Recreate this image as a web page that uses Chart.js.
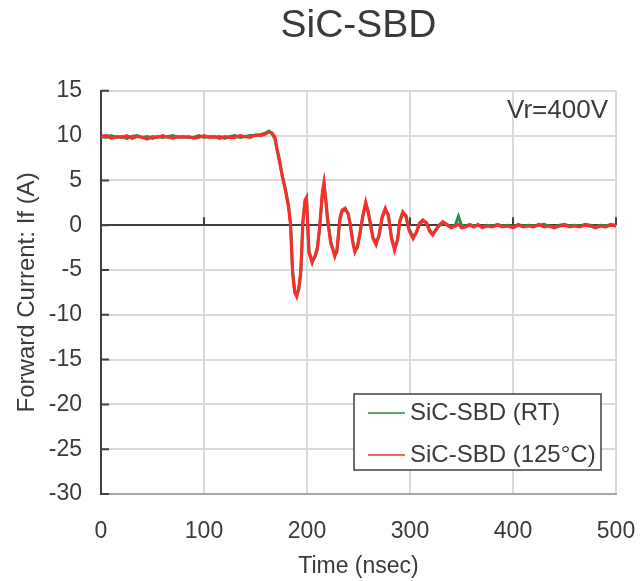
<!DOCTYPE html>
<html>
<head>
<meta charset="utf-8">
<script src="https://cdn.jsdelivr.net/npm/chart.js@4.4.1/dist/chart.umd.min.js"></script>
<style>
  html, body { margin: 0; padding: 0; background: #fff; }
  #wrap { width: 642px; height: 581px; }
</style>
</head>
<body>
<div id="wrap"><canvas id="recoveryChart" width="642" height="581"></canvas></div>
<script>
// time axis (nsec)
var timeNs = [
  0, 5, 10, 15, 20, 25, 30, 35, 40, 45, 50, 55, 60, 65, 70, 75,
  80, 85, 90, 95, 100, 105, 110, 115, 120, 125, 130, 135, 140, 145, 150, 155,
  160, 163, 166, 169, 171, 173, 176, 179, 182, 184, 186, 188, 190, 192, 194, 196,
  198, 199.5, 201, 202, 205, 208, 210, 212, 213, 215, 216.5, 218, 220, 223, 227, 229,
  232, 234, 237, 240, 242, 244.5, 246.5, 249, 251, 254, 257, 259, 261, 264, 267, 270,
  273, 276, 279, 282, 285, 288, 290, 293, 296, 299, 303, 306, 309, 312.5, 316, 319,
  322, 325, 328, 332, 336, 340, 344, 347, 350, 354, 358, 362, 366, 370,
  375, 380, 385, 390, 395, 400, 405, 410, 415, 420, 425, 430, 435, 440, 445, 450,
  455, 460, 465, 470, 475, 480, 485, 490, 495, 500
];

// forward current at room temperature (A)
var currentRT = [
  9.9, 9.8, 10.0, 9.8, 9.9, 9.7, 9.9, 10.0, 9.8, 9.9, 9.7, 9.9, 9.8, 9.9, 10.0, 9.8,
  9.9, 9.8, 9.8, 10.0, 9.8, 9.9, 9.8, 9.9, 9.7, 9.9, 10.0, 9.8, 9.9, 10.0, 10.0, 10.1,
  10.3, 10.5, 10.2, 9.6, 8.3, 7.2, 5.6, 4.1, 2.3, 0.3, -5.0, -7.2, -7.8, -7.2, -5.4, 0.2,
  2.6, 3.0, -0.6, -2.9, -4.0, -3.5, -2.7, -0.7, 0.7, 3.5, 4.6, 3.2, 0.8, -1.8, -3.3, -3.0,
  0.6, 1.5, 1.8, 1.3, 0.2, -1.8, -2.8, -2.5, -1.3, 0.8, 2.4, 1.8, 0.6, -1.3, -2.0, -1.2,
  0.8, 1.7, 1.2, -1.3, -2.6, -1.7, 0.3, 1.3, 1.1, -0.4, -1.3, -0.9, 0.0, 0.5, 0.3, -0.5,
  -1.0, -0.6, -0.1, 0.3, 0.1, -0.2, 0.0, 1.0, 0.0, -0.1, 0.1, -0.1, 0.0, -0.2,
  0.0, -0.1, 0.1, -0.1, 0.0, -0.2, 0.1, -0.1, 0.0, -0.1, 0.0, 0.1, -0.1, -0.2, 0.0, 0.1,
  -0.1, 0.0, -0.1, 0.1, 0.0, -0.2, 0.0, -0.1, 0.1, 0.0
];

// forward current at 125C (A)
var current125 = [
  9.8, 10.0, 9.7, 9.9, 9.8, 10.0, 9.7, 9.9, 9.8, 9.6, 9.9, 9.8, 10.0, 9.8, 9.7, 9.9,
  9.8, 9.9, 9.7, 9.8, 10.0, 9.8, 9.9, 9.7, 9.9, 9.8, 9.8, 10.0, 9.9, 9.8, 10.1, 10.0,
  10.2, 10.4, 10.3, 9.8, 8.5, 7.5, 5.4, 3.9, 2.0, 0.0, -5.4, -7.5, -8.0, -7.0, -5.0, 0.5,
  2.8, 3.1, -1.0, -3.1, -4.2, -3.3, -2.5, -0.5, 0.9, 3.8, 4.8, 3.0, 0.5, -2.0, -3.5, -2.8,
  0.9, 1.7, 1.9, 1.2, 0.0, -2.0, -3.0, -2.3, -1.1, 1.0, 2.6, 1.6, 0.4, -1.5, -2.2, -1.0,
  1.0, 1.9, 1.0, -1.5, -2.8, -1.5, 0.5, 1.5, 1.0, -0.6, -1.5, -0.8, 0.2, 0.6, 0.2, -0.7,
  -1.1, -0.5, 0.0, 0.4, 0.0, -0.3, -0.1, 0.1, -0.3, -0.2, 0.0, -0.2, 0.1, -0.3,
  -0.1, -0.2, 0.0, -0.2, -0.1, -0.3, 0.0, -0.2, -0.1, -0.2, 0.1, -0.2, -0.1, -0.3, -0.1, 0.0,
  -0.2, -0.1, -0.2, 0.0, -0.1, -0.3, -0.1, -0.2, 0.0, -0.1
];

var seriesNames = ['SiC-SBD (RT)', 'SiC-SBD (125\u00B0C)'];
var seriesColors = ['#23904a', '#ff2a2a'];
var xTicks = [0, 100, 200, 300, 400, 500];
var yTicks = [15, 10, 5, 0, -5, -10, -15, -20, -25, -30];

var FONT = "'Liberation Sans', Arial, sans-serif";
var TEXT = '#3a3a3a';

function toPoints(values) {
  return values.map(function (v, i) {
    return { x: timeNs[i], y: v };
  });
}

// excel style tick marks: up from the zero line, inward from the y axis
var axisMarks = {
  id: 'axisMarks',
  beforeDatasetsDraw: function (chart) {
    var ctx = chart.ctx;
    var area = chart.chartArea;
    var xs = chart.scales.x, ys = chart.scales.y;
    var y0 = ys.getPixelForValue(0);
    ctx.save();
    ctx.strokeStyle = '#404040';
    ctx.lineWidth = 2;
    ctx.beginPath();
    xTicks.forEach(function (v) {
      var px = xs.getPixelForValue(v);
      ctx.moveTo(px, y0);
      ctx.lineTo(px, y0 - 8);
    });
    yTicks.forEach(function (v) {
      var py = ys.getPixelForValue(v);
      ctx.moveTo(area.left, py);
      ctx.lineTo(area.left + 8, py);
    });
    ctx.stroke();
    ctx.restore();
  }
};

// legend box + "Vr=400V" note drawn inside the plot
var insidePlot = {
  id: 'insidePlot',
  afterDraw: function (chart) {
    var ctx = chart.ctx;
    var area = chart.chartArea;
    ctx.save();

    ctx.font = '26px ' + FONT;
    ctx.fillStyle = TEXT;
    ctx.textAlign = 'right';
    ctx.textBaseline = 'middle';
    ctx.fillText('Vr=400V', area.right - 8, area.top + 20);

    var bx = area.right - 262, by = area.bottom - 100, bw = 247, bh = 76;
    ctx.fillStyle = '#fff';
    ctx.fillRect(bx, by, bw, bh);
    ctx.strokeStyle = '#404040';
    ctx.lineWidth = 1.5;
    ctx.strokeRect(bx, by, bw, bh);

    ctx.font = '24px ' + FONT;
    ctx.textAlign = 'left';
    chart.data.datasets.forEach(function (ds, i) {
      var y = by + 19 + i * 42;
      ctx.strokeStyle = ds.borderColor;
      ctx.lineWidth = 1.5;
      ctx.beginPath();
      ctx.moveTo(bx + 14, y);
      ctx.lineTo(bx + 51, y);
      ctx.stroke();
      ctx.fillStyle = TEXT;
      ctx.fillText(ds.label, bx + 56, y);
    });
    ctx.restore();
  }
};

new Chart(document.getElementById('recoveryChart'), {
  type: 'scatter',
  data: {
    datasets: [{
      label: seriesNames[0],
      data: toPoints(currentRT),
      borderColor: seriesColors[0],
      backgroundColor: seriesColors[0],
      showLine: true,
      borderWidth: 3,
      pointRadius: 0,
      tension: 0,
      order: 2
    }, {
      label: seriesNames[1],
      data: toPoints(current125),
      borderColor: seriesColors[1],
      backgroundColor: seriesColors[1],
      showLine: true,
      borderWidth: 3,
      pointRadius: 0,
      tension: 0,
      order: 1
    }]
  },
  options: {
    responsive: false,
    animation: false,
    layout: { padding: { left: 0, right: 26, top: 0, bottom: 0 } },
    plugins: {
      legend: { display: false },
      tooltip: { enabled: false },
      title: {
        display: true,
        text: 'SiC-SBD',
        fullSize: false,
        color: TEXT,
        font: { family: FONT, size: 39, weight: 'normal' },
        padding: { top: 3, bottom: 41 }
      }
    },
    scales: {
      x: {
        type: 'linear',
        min: 0,
        max: 500,
        afterBuildTicks: function (scale) {
          scale.ticks = xTicks.map(function (v) { return { value: v }; });
        },
        afterFit: function (scale) {
          scale.height = 87;
          scale.paddingLeft = 0;
          scale.paddingRight = 0;
        },
        grid: { color: '#d9d9d9', lineWidth: 2, drawTicks: false },
        border: { color: '#a6a6a6', width: 2 },
        ticks: { color: TEXT, font: { family: FONT, size: 23 }, padding: 24, maxRotation: 0 },
        title: {
          display: true,
          text: 'Time (nsec)',
          color: TEXT,
          font: { family: FONT, size: 23 },
          padding: { top: 0, bottom: 1 }
        }
      },
      y: {
        min: -30,
        max: 15,
        afterBuildTicks: function (scale) {
          scale.ticks = yTicks.map(function (v) { return { value: v }; });
        },
        afterFit: function (scale) { scale.width = 101; },
        grid: {
          drawTicks: false,
          lineWidth: 2,
          color: function (c) {
            return c.tick && c.tick.value === 0 ? '#404040' : '#d9d9d9';
          }
        },
        border: { color: '#404040', width: 2 },
        ticks: { color: TEXT, font: { family: FONT, size: 23 }, padding: 19 },
        title: {
          display: true,
          text: 'Forward Current: If (A)',
          color: TEXT,
          font: { family: FONT, size: 24 },
          padding: { top: 13, bottom: 0 }
        }
      }
    }
  },
  plugins: [axisMarks, insidePlot]
});
</script>
</body>
</html>
